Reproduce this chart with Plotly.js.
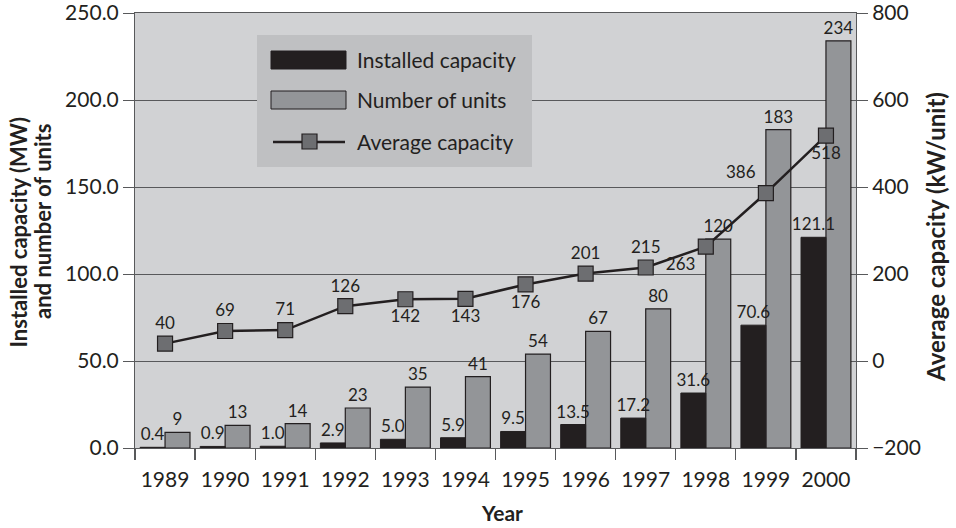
<!DOCTYPE html>
<html>
<head>
<meta charset="utf-8">
<script src="https://cdn.plot.ly/plotly-3.0.1.min.js"></script>
<style>html,body{margin:0;padding:0;background:#fff;}#chart{width:956px;height:528px;}</style>
</head>
<body>
<div id="chart"></div>
<script>
// ---- data ----
const years = ['1989','1990','1991','1992','1993','1994','1995','1996','1997','1998','1999','2000'];
const installedCapacity = [0.4, 0.9, 1.0, 2.9, 5.0, 5.9, 9.5, 13.5, 17.2, 31.6, 70.6, 121.1];
const numberOfUnits = [9, 13, 14, 23, 35, 41, 54, 67, 80, 120, 183, 234];
const averageCapacity = [40, 69, 71, 126, 142, 143, 176, 201, 215, 263, 386, 518];
const avgLabelPos = ['top center','top center','top center','top center','bottom center','bottom center',
                     'bottom center','top center','top center','bottom left','top left','bottom center'];
const leftTicks = [0, 50, 100, 150, 200, 250];
const rightTicks = [-200, 0, 200, 400, 600, 800];

const FONT = 'Lato, "Open Sans", sans-serif';
const INK = '#231f20';
const GRID = '#58595b';

// plot area geometry (pixels) for decorative legend placement
const L = 135, R = 100, T = 13, B = 80, W = 956, H = 528;
const pw = W - L - R, ph = H - T - B;
const px = x => (x - L) / pw;
const py = y => (H - B - y) / ph;

const BW = 0.415; // bar width in category units

const traces = [
  {
    type: 'bar', name: 'Number of units', x: years, y: numberOfUnits,
    width: BW, offset: 0,
    marker: {color: '#939598', line: {color: INK, width: 1.2}},
    text: numberOfUnits.map(String), textposition: 'outside',
    textfont: {family: FONT, size: 17, color: INK}, constraintext: 'none', cliponaxis: false,
    hoverinfo: 'skip'
  },
  {
    type: 'bar', name: 'Installed capacity', x: years, y: installedCapacity,
    width: BW, offset: -BW,
    marker: {color: INK, line: {color: INK, width: 1}},
    text: installedCapacity.map(v => v.toFixed(1)), textposition: 'outside',
    textfont: {family: FONT, size: 17, color: INK}, constraintext: 'none', cliponaxis: false,
    hoverinfo: 'skip'
  },
  {
    type: 'scatter', mode: 'lines+markers+text', name: 'Average capacity', x: years, y: averageCapacity,
    yaxis: 'y2',
    line: {color: INK, width: 2.5},
    marker: {symbol: 'square', size: 15, color: '#6d6e71', line: {color: INK, width: 1.2}},
    text: averageCapacity.map(String), textposition: avgLabelPos,
    textfont: {family: FONT, size: 17, color: INK}, cliponaxis: false,
    hoverinfo: 'skip'
  }
];

// custom legend (decorative)
const shapes = [
  {type: 'rect', xref: 'paper', yref: 'paper', layer: 'above',
   x0: px(257), x1: px(532), y0: py(167), y1: py(35), fillcolor: '#bfc0c2', line: {width: 0}},
  {type: 'rect', xref: 'paper', yref: 'paper', layer: 'above',
   x0: px(271), x1: px(346), y0: py(69), y1: py(51), fillcolor: INK, line: {color: INK, width: 1}},
  {type: 'rect', xref: 'paper', yref: 'paper', layer: 'above',
   x0: px(271), x1: px(346), y0: py(109), y1: py(91), fillcolor: '#939598', line: {color: INK, width: 1}},
  {type: 'line', xref: 'paper', yref: 'paper', layer: 'above',
   x0: px(273), x1: px(345), y0: py(142), y1: py(142), line: {color: INK, width: 2.5}},
  {type: 'rect', xref: 'paper', yref: 'paper', layer: 'above',
   x0: px(302), x1: px(317), y0: py(149), y1: py(134), fillcolor: '#6d6e71', line: {color: INK, width: 1.2}}
];

const legendText = ['Installed capacity', 'Number of units', 'Average capacity'];
const legendY = [60, 100, 141];
const annotations = legendText.map((t, i) => ({
  xref: 'paper', yref: 'paper', x: px(355), y: py(legendY[i]), xanchor: 'left', yanchor: 'middle',
  text: t, showarrow: false, font: {family: FONT, size: 21, color: INK}
}));

const titleFont = {family: FONT, size: 22, color: INK, weight: 'bold'};
annotations.push({
  xref: 'paper', yref: 'paper', x: px(17.5), y: py(232), xanchor: 'center', yanchor: 'middle',
  textangle: -90, showarrow: false, text: 'Installed capacity (MW)', font: titleFont
});
annotations.push({
  xref: 'paper', yref: 'paper', x: px(42), y: py(222), xanchor: 'center', yanchor: 'middle',
  textangle: -90, showarrow: false, text: 'and number of units', font: titleFont
});
annotations.push({
  xref: 'paper', yref: 'paper', x: px(935), y: py(237), xanchor: 'center', yanchor: 'middle',
  textangle: -90, showarrow: false, text: 'Average capacity (kW/unit)',
  font: {family: FONT, size: 24, color: INK, weight: 'bold'}
});
annotations.push({
  xref: 'paper', yref: 'paper', x: px(502), y: py(512), xanchor: 'center', yanchor: 'middle',
  showarrow: false, text: 'Year', font: {family: FONT, size: 21, color: INK, weight: 'bold'}
});

const layout = {
  width: W, height: H,
  margin: {l: L, r: R, t: T, b: B, pad: 0},
  paper_bgcolor: '#ffffff', plot_bgcolor: '#d1d2d4',
  font: {family: FONT, color: INK},
  showlegend: false,
  barmode: 'overlay',
  xaxis: {
    type: 'category', range: [-0.5, 11.5], showline: true, linecolor: GRID, linewidth: 1, mirror: true,
    ticks: 'outside', tickson: 'boundaries', ticklen: 11, tickcolor: GRID, tickwidth: 1.2,
    tickangle: 0, ticklabelstandoff: 13,
    tickfont: {family: FONT, size: 21, color: INK}, showgrid: false, zeroline: false
  },
  yaxis: {
    range: [0, 250], tickvals: leftTicks, tickformat: '.1f',
    showline: true, linecolor: GRID, linewidth: 1,
    ticks: 'outside', ticklen: 11, tickcolor: GRID, ticklabeloverflow: 'allow',
    showgrid: true, gridcolor: GRID, gridwidth: 1, zeroline: false,
    tickfont: {family: FONT, size: 21, color: INK}
  },
  yaxis2: {
    overlaying: 'y', side: 'right', range: [-200, 800], tickvals: rightTicks,
    showline: true, linecolor: GRID, linewidth: 1,
    ticks: 'outside', ticklen: 11, tickcolor: GRID, ticklabeloverflow: 'allow',
    showgrid: false, zeroline: false,
    tickfont: {family: FONT, size: 21, color: INK}
  },
  shapes: shapes,
  annotations: annotations
};

Plotly.newPlot('chart', traces, layout, {displayModeBar: false, staticPlot: true});
</script>
</body>
</html>
